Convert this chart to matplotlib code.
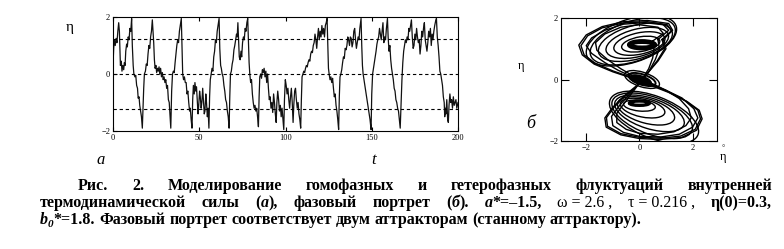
import numpy as np
import matplotlib
matplotlib.use("Agg")
import matplotlib.pyplot as plt
from matplotlib.patches import Ellipse
from matplotlib.font_manager import FontProperties

# --- данные (а): эта(t) ----------------------------------------------------
eta_series = [
    (0, 0.3), (0.4, 0.9), (0.8, 1.2), (1.3, 1.0), (1.8, 1.25), (2.3, 1.1), (2.8, 1.5), (3.3, 1.8),
    (3.7, 1.5), (4.0, 0.9), (4.3, 0.3), (4.8, 0.45), (5.2, 0.1), (5.7, 0.3), (6.2, 0.15), (6.6, 0.4),
    (7.0, 0.3), (7.4, 0.8), (7.9, 1.05), (8.3, 0.95), (8.8, 1.3), (9.3, 1.2), (9.8, 1.6), (10.3, 1.5),
    (10.8, 1.95), (11.2, 1.0), (11.7, 0.3), (12.1, 0.0), (12.7, -0.1), (13.2, -0.05), (13.7, -0.4),
    (14.2, -0.5), (14.6, -0.85), (15.1, -0.8), (15.5, -1.1), (16.0, -1.3), (16.5, -1.5), (17.0, -1.9),
    (17.4, -1.2), (17.8, -0.5), (18.2, 0.0), (18.8, 0.1), (19.3, 0.35), (19.8, 0.3), (20.3, 0.7),
    (20.8, 1.0), (21.3, 0.9), (21.8, 1.3), (22.3, 1.5), (22.8, 1.9), (23.2, 1.5), (23.6, 1.1),
    (24.0, 0.5), (24.4, 0.2), (24.9, 0.3), (25.3, 0.05), (25.8, 0.2), (26.2, 0.1), (26.7, 0.25),
    (27.1, 0.0), (27.6, 0.2), (28.1, -0.1), (28.6, 0.05), (29.1, -0.2), (29.6, -0.1), (30.1, -0.3),
    (30.6, -0.2), (31.1, -0.5), (31.6, -0.4), (32.1, -0.9), (32.6, -1.0), (33.1, -1.5), (33.5, -1.9),
    (34.0, -0.6), (34.5, 0.0), (35.0, 0.1), (35.5, 0.05), (36.0, 0.4), (36.5, 0.7), (37.0, 1.0),
    (37.5, 1.2), (38.0, 1.1), (38.5, 1.5), (39.0, 1.7), (39.6, 1.95), (40.0, 1.0), (40.4, 0.0),
    (40.9, -0.2), (41.4, -0.1), (41.9, -0.3), (42.4, -0.3), (42.9, -0.7), (43.4, -0.6), (43.9, -1.0),
    (44.4, -1.3), (44.8, -1.2), (45.3, -1.6), (45.8, -1.9), (46.2, -0.9), (46.6, -0.4), (47.1, -0.7),
    (47.5, -0.3), (48.0, -0.6), (48.4, -0.45), (48.9, -1.0), (49.3, -1.4), (49.7, -1.1), (50.2, -0.6),
    (50.6, -0.8), (51.1, -1.2), (51.5, -1.0), (52.0, -0.5), (52.4, -0.9), (52.9, -1.4), (53.3, -1.3),
    (53.8, -0.7), (54.2, -1.0), (54.7, -1.5), (55.1, -1.2), (55.6, -1.9), (56.0, -0.8), (56.4, -0.2),
    (56.9, 0.0), (57.4, 0.2), (57.9, 0.1), (58.4, 0.6), (58.9, 0.8), (59.4, 1.2), (59.9, 1.1),
    (60.4, 1.5), (60.9, 1.7), (61.5, 1.95), (61.9, 0.9), (62.4, 0.3), (62.8, 0.2), (63.3, 0.0),
    (63.8, -0.1), (64.3, -0.4), (64.8, -0.6), (65.3, -0.9), (65.8, -1.0), (66.3, -1.3), (66.8, -1.5),
    (67.3, -1.9), (67.7, -0.8), (68.1, 0.0), (68.6, 0.1), (69.1, 0.35), (69.6, 0.5), (70.1, 0.85),
    (70.6, 1.0), (71.1, 1.2), (71.6, 1.4), (72.0, 1.3), (72.4, 1.8), (72.8, 1.2), (73.2, 0.6),
    (73.7, 0.5), (74.2, 0.8), (74.6, 0.6), (75.1, 1.1), (75.6, 1.3), (76.1, 1.2), (76.6, 1.6),
    (77.1, 1.5), (77.6, 1.8), (78.1, 1.95), (78.5, 1.2), (78.9, 0.4), (79.3, 0.0), (79.8, -0.3),
    (80.3, -0.2), (80.8, -0.7), (81.3, -1.0), (81.8, -1.2), (82.3, -1.1), (82.8, -1.3), (83.3, -1.2),
    (83.8, -1.5), (84.3, -1.85), (84.7, -0.8), (85.1, -0.1), (85.6, 0.0), (86.1, -0.15), (86.6, 0.15),
    (87.1, 0.05), (87.6, 0.2), (88.1, -0.1), (88.6, 0.1), (89.1, -0.3), (89.6, 0.0), (90.1, -0.5),
    (90.6, -0.9), (91.1, -0.8), (91.6, -1.2), (92.1, -1.0), (92.6, -1.35), (93.1, -0.7), (93.6, -1.0),
    (94.1, -1.4), (94.6, -1.7), (95.0, -1.0), (95.5, -0.6), (96.0, -0.9), (96.5, -1.3), (97.0, -1.1),
    (97.5, -1.5), (98.0, -1.2), (98.5, -1.6), (99.0, -1.95), (99.4, -0.9), (99.9, -0.2), (100.4, -0.4),
    (100.9, -0.7), (101.4, -0.5), (101.9, -0.9), (102.4, -1.2), (102.9, -0.8), (103.4, -0.5),
    (103.9, -1.0), (104.4, -1.7), (104.8, -1.1), (105.3, -0.6), (105.8, -0.5), (106.3, -0.9),
    (106.8, -1.2), (107.3, -1.0), (107.8, -1.4), (108.3, -1.6), (108.8, -1.9), (109.2, -0.9),
    (109.6, -0.1), (110.1, 0.0), (110.6, 0.1), (111.1, 0.05), (111.6, 0.2), (112.1, 0.3), (112.6, 0.25),
    (113.1, 0.4), (113.6, 0.5), (114.1, 0.45), (114.6, 0.7), (115.1, 0.8), (115.6, 0.75), (116.1, 1.0),
    (116.6, 1.1), (117.1, 1.4), (117.6, 1.2), (118.1, 0.9), (118.6, 1.3), (119.1, 1.6), (119.6, 1.2),
    (120.1, 1.5), (120.6, 1.3), (121.1, 1.7), (121.6, 1.4), (122.1, 1.6), (122.6, 1.3), (123.1, 1.7),
    (123.6, 1.8), (124.1, 1.95), (124.5, 1.0), (124.9, 0.2), (125.3, 0.0), (125.8, -0.2), (126.3, -0.1),
    (126.8, -0.3), (127.3, -0.15), (127.8, -0.5), (128.3, -0.8), (128.8, -0.7), (129.3, -1.1),
    (129.8, -1.3), (130.3, -1.6), (130.8, -1.95), (131.2, -0.8), (131.6, -0.1), (132.1, 0.0),
    (132.6, 0.15), (133.1, 0.4), (133.6, 0.6), (134.1, 0.55), (134.6, 0.9), (135.1, 0.85), (135.6, 1.0),
    (136.1, 1.3), (136.6, 1.2), (137.1, 1.0), (137.6, 1.3), (138.1, 1.25), (138.6, 0.95), (139.1, 1.1),
    (139.6, 1.5), (140.1, 1.6), (140.6, 1.2), (141.1, 0.9), (141.6, 1.1), (142.1, 1.3), (142.6, 1.2),
    (143.1, 1.6), (143.8, 1.95), (144.2, 1.0), (144.6, 0.3), (145.0, 0.0), (145.5, -0.2), (146.0, -0.4),
    (146.5, -0.6), (147.0, -0.8), (147.5, -1.0), (148.0, -1.2), (148.5, -1.4), (149.0, -1.6),
    (149.6, -1.95), (150.0, -0.7), (150.5, 0.0), (151.0, 0.2), (151.5, 0.4), (152.0, 0.6), (152.5, 0.8),
    (153.0, 1.05), (153.5, 1.2), (154.0, 1.3), (154.5, 1.6), (155.0, 1.4), (155.5, 1.2), (156.0, 1.5),
    (156.5, 1.8), (157.0, 1.1), (157.5, 1.3), (158.0, 1.2), (158.5, 1.6), (159.1, 1.95), (159.5, 1.3),
    (160.0, 0.8), (160.5, 1.0), (161.0, 0.5), (161.5, 0.2), (162.0, 0.0), (162.5, -0.2), (163.0, -0.5),
    (163.5, -0.6), (164.0, -0.9), (164.5, -1.0), (165.0, -1.2), (165.5, -1.3), (166.0, -1.6),
    (166.5, -1.9), (167.0, -1.0), (167.5, -0.2), (168.0, 0.4), (168.5, 0.8), (169.0, 1.0), (169.5, 1.2),
    (170.0, 1.1), (170.5, 1.3), (171.0, 1.2), (171.5, 1.6), (172.0, 1.5), (172.5, 1.7), (173.0, 1.9),
    (173.5, 1.3), (174.0, 0.9), (174.5, 1.0), (175.0, 1.4), (175.5, 1.2), (176.0, 1.6), (176.5, 1.3),
    (177.0, 1.1), (177.5, 1.2), (178.0, 0.7), (178.5, 1.0), (179.0, 1.5), (179.5, 1.3), (180.0, 1.6),
    (180.5, 1.8), (181.0, 1.2), (181.5, 1.0), (182.0, 0.8), (182.5, 1.1), (183.0, 1.5), (183.5, 1.3),
    (184.0, 1.6), (184.5, 1.0), (185.0, 1.4), (185.5, 1.2), (186.0, 1.5), (186.5, 1.7), (187.0, 1.85),
    (187.5, 1.95), (188.0, 1.3), (188.5, 1.0), (189.0, 0.6), (189.5, 0.1), (190.0, 0.0), (190.5, -0.2),
    (191.0, -0.4), (191.5, -0.8), (192.0, -1.0), (192.3, -1.5), (192.7, -1.2), (193.0, -1.4),
    (193.5, -0.9), (194.0, -1.6), (194.4, -1.7), (194.8, -1.1), (195.3, -0.7), (195.8, -1.0),
    (196.3, -0.9), (196.8, -1.2), (197.3, -0.8), (197.8, -1.1), (198.3, -1.0), (198.8, -0.9),
    (199.3, -1.2), (200.0, -1.0),
]
levels = [1.22, 0.0, -1.22]          # пунктирные уровни
t_ticks = [0, 50, 100, 150, 200]
eta_ticks = [-2, 0, 2]

# --- данные (б): фазовый портрет ------------------------------------------
# витки спиралей: cx, cy, ширина, высота, наклон, толщина
upper_rings = [
    (0.10, 1.13, 1.00, 0.25, 0, 2.6),
    (0.10, 1.13, 0.80, 0.14, 0, 2.0),
    (0.05, 1.15, 1.45, 0.48, 8, 1.0),
    (0.00, 1.17, 1.95, 0.70, 10, 1.0),
    (-0.08, 1.19, 2.40, 0.90, 12, 1.0),
    (-0.15, 1.21, 2.85, 1.10, 13, 1.0),
    (-0.25, 1.24, 3.30, 1.32, 15, 1.0),
    (-0.30, 1.26, 3.50, 1.42, 15, 1.0),
]
lower_rings = [
    (0.00, -0.77, 0.75, 0.14, 0, 2.4),
    (0.00, -0.85, 1.20, 0.35, -5, 1.0),
    (0.12, -0.93, 1.70, 0.58, -10, 1.0),
    (0.25, -1.02, 2.20, 0.80, -13, 1.0),
    (0.38, -1.10, 2.70, 1.00, -15, 1.0),
    (0.48, -1.18, 3.15, 1.22, -17, 1.0),
    (0.55, -1.23, 3.50, 1.38, -18, 1.0),
]
center_rings = [
    (0.10, 0.00, 1.35, 0.48, -15, 1.0),
    (0.10, 0.00, 1.05, 0.34, -15, 1.4),
    (0.05, -0.02, 0.75, 0.22, -15, 2.2),
    (0.05, -0.02, 0.45, 0.12, -15, 3.0),
]
# внешние петли "восьмёрки" (эта', эта)
loop_a = [(0.9, 1.3), (1.25, 1.6), (1.1, 1.82), (0.3, 1.92), (-0.6, 1.88), (-1.4, 1.72), (-2.0, 1.45),
          (-2.28, 1.12), (-2.15, 0.8), (-1.7, 0.5), (-1.0, 0.25), (-0.3, 0.05), (0.3, -0.15), (1.1, -0.42),
          (1.8, -0.72), (2.25, -1.0), (2.36, -1.28), (2.15, -1.65), (1.6, -1.88), (0.8, -1.95),
          (0.0, -1.92), (-0.7, -1.8), (-1.25, -1.55), (-1.3, -1.25), (-1.0, -0.9), (-0.6, -0.55),
          (-0.1, -0.2), (0.3, 0.2), (0.7, 0.6), (1.0, 1.0), (0.9, 1.3)]
loop_d = [(0.85, 1.3), (1.2, 1.58), (1.05, 1.78), (0.3, 1.88), (-0.6, 1.84), (-1.4, 1.68),
          (-1.95, 1.42), (-2.2, 1.1), (-2.08, 0.8), (-1.65, 0.52), (-1.0, 0.28), (-0.3, 0.07),
          (0.3, -0.12), (1.1, -0.4), (1.75, -0.7), (2.2, -1.0), (2.3, -1.28), (2.1, -1.62),
          (1.55, -1.84), (0.8, -1.91), (0.0, -1.88), (-0.7, -1.76), (-1.2, -1.52), (-1.24, -1.24),
          (-0.95, -0.9), (-0.55, -0.55), (-0.05, -0.18), (0.32, 0.22), (0.68, 0.62), (0.95, 1.0),
          (0.85, 1.3)]
loop_b = [(0.7, 1.3), (1.1, 1.6), (0.9, 1.78), (0.2, 1.85), (-0.6, 1.8), (-1.3, 1.6), (-1.8, 1.35),
          (-2.0, 1.1), (-1.8, 0.85), (-1.3, 0.55), (-0.8, 0.3), (-0.3, 0.1), (0.3, -0.1), (1.0, -0.35),
          (1.6, -0.6), (2.05, -0.95), (2.2, -1.25), (2.0, -1.55), (1.5, -1.78), (0.8, -1.87),
          (0.0, -1.85), (-0.6, -1.72), (-1.0, -1.5), (-1.05, -1.2), (-0.75, -0.85), (-0.35, -0.45),
          (0.0, -0.1), (0.35, 0.25), (0.6, 0.65), (0.75, 1.0), (0.7, 1.3)]
loop_c = [(0.5, 1.25), (0.9, 1.5), (0.7, 1.7), (0.0, 1.78), (-0.7, 1.7), (-1.3, 1.48), (-1.65, 1.2),
          (-1.6, 0.95), (-1.2, 0.65), (-0.7, 0.35), (-0.2, 0.1), (0.4, -0.1), (1.0, -0.35),
          (1.5, -0.62), (1.85, -0.95), (1.95, -1.25), (1.75, -1.5), (1.3, -1.7), (0.7, -1.78),
          (0.0, -1.75), (-0.5, -1.62), (-0.85, -1.4), (-0.85, -1.1), (-0.55, -0.75), (-0.2, -0.35),
          (0.1, 0.0), (0.35, 0.35), (0.5, 0.7), (0.55, 1.0), (0.5, 1.25)]
phase_ticks = [-2, 0, 2]

W, H = 784, 249
serif = "Liberation Serif"

fig = plt.figure(figsize=[W / 100, H / 100], dpi=100)
fig.patch.set_facecolor("white")


def box(x0, y0, x1, y1):
    """пиксели картинки -> доли фигуры"""
    return [x0 / W, 1 - y1 / H, (x1 - x0) / W, (y1 - y0) / H]


tick_font = {"family": serif, "size": 6}

# --- (а) -------------------------------------------------------------------
ax_t = fig.add_axes(box(113, 17, 458, 131))
t_arr = np.array([p[0] for p in eta_series])
eta_arr = np.array([p[1] for p in eta_series])
ax_t.plot(t_arr, eta_arr, color="#111111", lw=0.9)
for lev in levels:
    ax_t.axhline(lev, color="black", lw=0.8, ls=(0, (3, 2.5)))
ax_t.set_xlim(0, 200)
ax_t.set_ylim(-2, 2)
ax_t.set_xticks(t_ticks)
ax_t.set_yticks(eta_ticks)
ax_t.tick_params(direction="in", length=3, width=0.8, top=True, pad=2)
for lab in ax_t.get_xticklabels() + ax_t.get_yticklabels():
    lab.set_fontproperties(FontProperties(**tick_font))
for s in ax_t.spines.values():
    s.set_linewidth(0.8)

# --- (б) -------------------------------------------------------------------
ax_p = fig.add_axes(box(561, 18, 717, 141))
for rings in (upper_rings, lower_rings, center_rings):
    for cx, cy, w, h, ang, lw in rings:
        ax_p.add_patch(Ellipse((cx, cy), w, h, angle=ang, fill=False, ec="black", lw=lw))
for loop in (loop_a, loop_d, loop_b, loop_c):
    ax_p.plot([p[0] for p in loop], [p[1] for p in loop], color="black", lw=1.0)
ax_p.set_xlim(-2.95, 2.92)
ax_p.set_ylim(-2, 2)
ax_p.set_xticks(phase_ticks)
ax_p.set_yticks(phase_ticks)
ax_p.tick_params(direction="in", length=6, width=0.8, top=True, right=True, pad=2)
for lab in ax_p.get_xticklabels() + ax_p.get_yticklabels():
    lab.set_fontproperties(FontProperties(**tick_font))
for s in ax_p.spines.values():
    s.set_linewidth(0.8)

# --- подписи у графиков ----------------------------------------------------
def label(x, y, s, size, style="normal"):
    fig.text(x / W, 1 - y / H, s, family=serif, size=size, style=style, ha="center", va="center")


label(70, 27, "η", 11)
label(101, 160, "a", 12, "italic")
label(374, 160, "t", 12, "italic")
label(521, 66, "η", 9)
label(531, 124, "б", 13, "italic")
label(723, 157, "η", 9)
label(723, 148, "°", 6)

# --- подпись рисунка -------------------------------------------------------
styles = {
    "b": dict(weight="bold", style="normal"),
    "bi": dict(weight="bold", style="italic"),
    "r": dict(weight="normal", style="normal"),
}
caption = [
    (78, 772, 190, True,
     [[("Рис.", "b")], [("2.", "b")], [("Моделирование", "b")], [("гомофазных", "b")], [("и", "b")],
      [("гетерофазных", "b")], [("флуктуаций", "b")], [("внутренней", "b")]]),
    (40, 772, 207, True,
     [[("термодинамической", "b")], [("силы", "b")], [("(", "b"), ("а", "bi"), ("),", "b")],
      [("фазовый", "b")], [("портрет", "b")], [("(", "b"), ("б", "bi"), (").", "b")],
      [("a", "bi"), ("*=–1.5,", "b")], [("ω = 2.6 ,", "r")], [("τ = 0.216 ,", "r")],
      [("η(0)=0.3,", "b")]]),
    (40, None, 224, False,
     [[("b", "bi"), ("0", "sub"), ("*=1.8.", "b")], [("Фазовый", "b")], [("портрет", "b")],
      [("соответствует", "b")], [("двум", "b")], [("аттракторам", "b")], [("(станному", "b")],
      [("аттрактору).", "b")]]),
]
cap_size = 11.5

renderer = fig.canvas.get_renderer()


def make_run(text, st):
    if st == "sub":
        t = fig.text(0, 0, text, family=serif, size=cap_size * 0.7, weight="bold", style="italic",
                     va="baseline")
    else:
        t = fig.text(0, 0, text, family=serif, size=cap_size, va="baseline", **styles[st])
    return t, t.get_window_extent(renderer).width


space_w = make_run("a a", "b")[1] - make_run("aa", "b")[1]
for t in fig.texts[-2:]:
    t.remove()

for x0, x1, y, justify, words in caption:
    built = []
    for word in words:
        runs = [make_run(txt, st) + (st,) for txt, st in word]
        built.append((runs, sum(r[1] for r in runs)))
    total = sum(b[1] for b in built)
    gap = (x1 - x0 - total) / (len(built) - 1) if justify else space_w
    x = x0
    for runs, wsum in built:
        for t, w, st in runs:
            dy = 3 if st == "sub" else 0
            t.set_position((x / W, 1 - (y + dy) / H))
            x += w
        x += gap

fig.savefig("out.png", dpi=100, facecolor="white")
